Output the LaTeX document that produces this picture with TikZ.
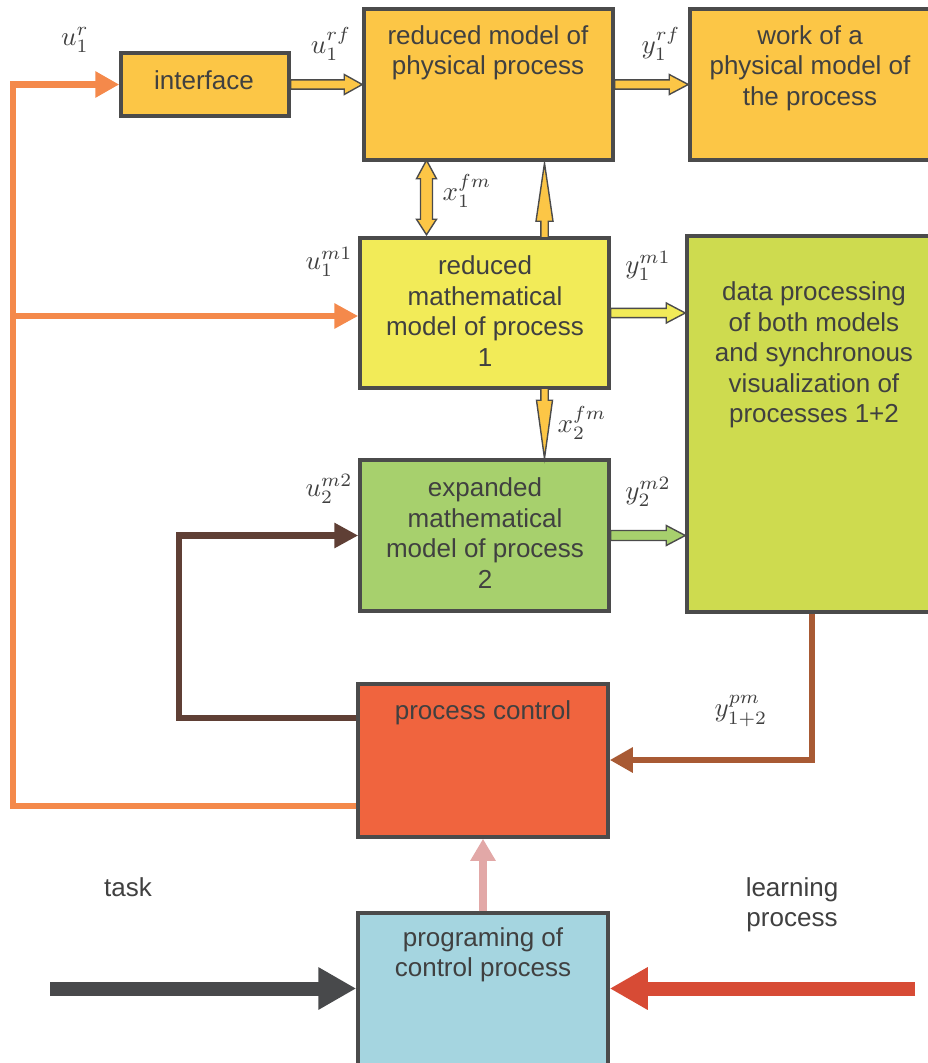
\documentclass[tikz,border=0pt]{standalone}
\usepackage{fontspec}
\usepackage{graphicx}
\setmainfont{Liberation Sans}
\usetikzlibrary{arrows.meta,calc}
\definecolor{bord}{HTML}{4B4B4B}
\definecolor{txtc}{HTML}{404040}
\definecolor{cOrY}{HTML}{FCC646}
\definecolor{cMath}{HTML}{F2EB58}
\definecolor{cData}{HTML}{CEDB4F}
\definecolor{cExp}{HTML}{A7D06D}
\definecolor{cCtrl}{HTML}{F0643E}
\definecolor{cProg}{HTML}{A5D5E0}
\definecolor{lOrange}{HTML}{F4894B}
\definecolor{lDBrown}{HTML}{5F3F35}
\definecolor{lBrown}{HTML}{A85A34}
\definecolor{lPink}{HTML}{E2A8A7}
\definecolor{lGrey}{HTML}{48494B}
\definecolor{lRed}{HTML}{D74B35}
\newcommand\harr[6]{% from, to, shaft half, head half, head length, fill
  \draw[blockarr,fill=#6] let \p1=(#1), \p2=(#2) in
    (\x1,\y1+#3) -- (\x2-#5,\y1+#3) -- (\x2-#5,\y1+#4) -- (\x2,\y1)
    -- (\x2-#5,\y1-#4) -- (\x2-#5,\y1-#3) -- (\x1,\y1-#3) -- cycle;}
\newcommand\varr[6]{% from, to (vertical), shaft half, head half, head length (canvas, signed), fill
  \draw[blockarr,fill=#6] let \p1=(#1), \p2=(#2) in
    (\x1+#3,\y1) -- (\x1+#3,\y2-#5) -- (\x1+#4,\y2-#5) -- (\x1,\y2)
    -- (\x1-#4,\y2-#5) -- (\x1-#3,\y2-#5) -- (\x1-#3,\y1) -- cycle;}
\newcommand\ml[1]{\scalebox{2.7}{$#1$}}
\tikzset{
  box/.style={draw=bord,line width=3.5pt,rectangle,inner sep=0pt},
  txt/.style={text=txtc,font=\fontsize{26}{30.5}\selectfont,align=center,inner sep=0pt},
  lab/.style={text=txtc,inner sep=0pt},
  blockarr/.style={draw=bord,line width=1.4pt,line join=miter},
  thick6/.style={line width=6.5pt},
}
\begin{document}
\begin{tikzpicture}[x=1pt,y=-1pt]
\useasboundingbox (0,0) rectangle (928,1063);
\clip (0,0) rectangle (928,1063);
% boxes
\node[box,fill=cOrY,minimum width=168pt,minimum height=63pt] (iface) at (205,84.5) {};
\node[box,fill=cOrY,minimum width=249pt,minimum height=151pt] (phys) at (488.5,84.5) {};
\node[box,fill=cOrY,minimum width=250pt,minimum height=151pt] (work) at (815,84.5) {};
\node[box,fill=cMath,minimum width=249pt,minimum height=150pt] (math1) at (484.5,313) {};
\node[box,fill=cData,minimum width=255pt,minimum height=376pt] (data) at (814.5,424) {};
\node[box,fill=cExp,minimum width=249pt,minimum height=151pt] (exp) at (484.5,535.5) {};
\node[box,fill=cCtrl,minimum width=250pt,minimum height=153pt] (ctrl) at (483,760.5) {};
\node[box,fill=cProg,minimum width=250pt,minimum height=160pt] (prog) at (483,993) {};
% texts
\node[txt] (ifaceT) at (204,80) {interface};
\node[txt] (physT) at (488,53) {reduced model of\\physical process};
\node[txt] (workT) at (810,68) {work of a\\physical model of\\the process};
\node[txt] (math1T) at (485,311) {reduced\\mathematical\\model of process\\1};
\node[txt] (dataT) at (814,355) {data processing\\of both models\\and synchronous\\visualization of\\processes 1+2};
\node[txt] (expT) at (485,533) {expanded\\mathematical\\model of process\\2};
\node[txt] (ctrlT) at (483,713) {process control};
\node[txt] (progT) at (483,955) {programing of\\control process};
\node[txt] (taskT) at (128,887) {task};
\node[txt] (learnT) at (792,905) {learning\\process};
% math labels
\node[lab] (l1) at (75,40) {\ml{u_1^{r}}};
\node[lab] (l2) at (331,44) {\ml{u_1^{rf}}};
\node[lab] (l3) at (661,44) {\ml{y_1^{rf}}};
\node[lab] (l4) at (467,191) {\ml{x_1^{fm}}};
\node[lab] (l5) at (329,262) {\ml{u_1^{m1}}};
\node[lab] (l6) at (648,266) {\ml{y_1^{m1}}};
\node[lab] (l7) at (582,423) {\ml{x_2^{fm}}};
\node[lab] (l8) at (329,489) {\ml{u_2^{m2}}};
\node[lab] (l9) at (648,492) {\ml{y_2^{m2}}};
\node[lab] (l10) at (741,711) {\ml{y_{1+2}^{pm}}};
% connector coordinates
\coordinate (oc) at (13,806);
\coordinate (ob) at (13,316);
\coordinate (bl) at (179,718);
\coordinate (br) at (812,760);
\coordinate (gs) at (50,988.5);
\coordinate (rs) at (915,988.5);
% block arrows
\harr{iface.east}{phys.west}{4.6pt}{10pt}{18pt}{cOrY}
\harr{$(phys.east)$}{work.west}{4.6pt}{10pt}{19pt}{cOrY}
\harr{$(math1.east)$}{data.west|-math1.east}{4.6pt}{10pt}{19pt}{cMath}
\harr{$(exp.east)$}{data.west|-exp.east}{5pt}{10pt}{19pt}{cExp}
% double arrow x1fm
\draw[blockarr,fill=cOrY] let \p1=($(phys.south)+(-62pt,0)$), \p2=($(math1.north)+(-58pt,0)$) in
  (\x1,\y1+1.5pt) -- (\x1+10pt,\y1-17pt) -- (\x1+6pt,\y1-17pt) -- (\x1+6pt,\y2+17pt) -- (\x1+10pt,\y2+17pt)
  -- (\x1,\y2+1.5pt) -- (\x1-10pt,\y2+17pt) -- (\x1-6pt,\y2+17pt) -- (\x1-6pt,\y1-17pt) -- (\x1-10pt,\y1-17pt) -- cycle;
% up arrow math1 -> phys
\coordinate (upS) at ($(math1.north)+(60pt,-1.5pt)$);
\coordinate (upE) at ($(phys.south)+(56pt,-1.5pt)$);
\varr{upS}{upE}{3.7pt}{8.5pt}{58pt}{cOrY}
% down arrow math1 -> exp
\coordinate (dnS) at ($(math1.south)+(60pt,1.5pt)$);
\coordinate (dnE) at ($(exp.north)+(60pt,0pt)$);
\varr{dnS}{dnE}{3.7pt}{8pt}{-58pt}{cOrY}
% orange lines
\draw[thick6,draw=lOrange,-{Triangle[length=24pt,width=25pt]}]
  (ctrl.west|-oc) -- (oc) -- (oc|-iface.west) -- (iface.west);
\draw[thick6,draw=lOrange,-{Triangle[length=24pt,width=24pt]}]
  (ob) -- (math1.west|-ob);
% dark brown
\draw[thick6,draw=lDBrown,-{Triangle[length=24pt,width=24pt]}]
  (ctrl.west|-bl) -- (bl) -- (bl|-exp.west) -- (exp.west);
% brown from data
\draw[thick6,draw=lBrown,-{Triangle[length=23pt,width=24pt]}]
  (data.south-|br) -- (br) -- (ctrl.east|-br);
% pink
\draw[line width=8pt,draw=lPink,-{Triangle[length=22pt,width=24pt]}]
  (prog.north) -- (ctrl.south);
% bottom arrows
\draw[line width=14pt,draw=lGrey,-{Triangle[length=38pt,width=40pt]}]
  (gs) -- (prog.west|-gs);
\draw[line width=14pt,draw=lRed,-{Triangle[length=38pt,width=40pt]}]
  (rs) -- (prog.east|-rs);
\end{tikzpicture}
\end{document}
